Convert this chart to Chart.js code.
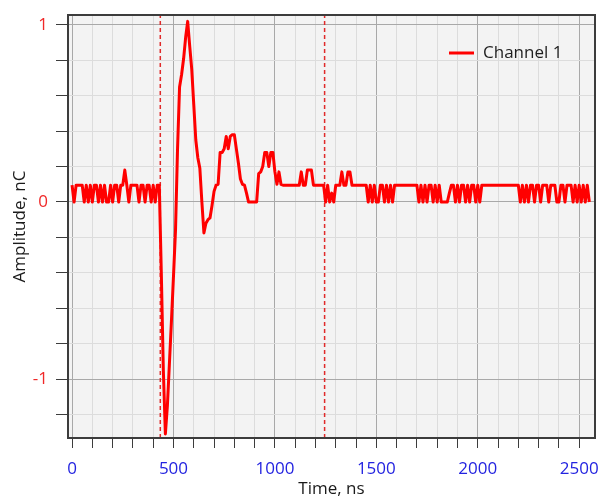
<!DOCTYPE html>
<html>
<head>
<meta charset="utf-8">
<script src="https://cdn.jsdelivr.net/npm/chart.js@4.4.1/dist/chart.umd.min.js"></script>
<style>
  html, body { margin: 0; padding: 0; background: #ffffff; }
  canvas { display: block; }
</style>
</head>
<body>
<canvas id="myChart" width="601" height="499"></canvas>
<script>
/* Channel 1 waveform, one sample every 10 ns starting at 0 ns. */
const sampleStartNs = 0;
const sampleStepNs = 10;
const channel1Nc = [
  /*    0 */ 0.095, 0, 0.095, 0.095, 0.095, 0.095, 0, 0.095, 0, 0.095,
  /*  100 */ 0, 0.095, 0.095, 0, 0.095, 0, 0.095, 0, 0, 0.095,
  /*  200 */ 0, 0.095, 0.095, 0, 0.095, 0.095, 0.18, 0.095, 0, 0.095,
  /*  300 */ 0.095, 0.095, 0.095, 0, 0.095, 0.095, 0, 0.095, 0.095, 0,
  /*  400 */ 0.095, 0, 0.095, 0.095, -0.4, -0.95, -1.31, -1.15, -0.91, -0.67,
  /*  500 */ -0.42, -0.16, 0.3, 0.65, 0.72, 0.81, 0.93, 1.02, 0.88, 0.75,
  /*  600 */ 0.55, 0.35, 0.25, 0.19, 0, -0.175, -0.12, -0.1, -0.09, -0.02,
  /*  700 */ 0.06, 0.095, 0.1, 0.28, 0.28, 0.3, 0.37, 0.3, 0.37, 0.38,
  /*  800 */ 0.38, 0.3, 0.22, 0.13, 0.1, 0.095, 0.05, 0, 0, 0,
  /*  900 */ 0, 0, 0.16, 0.17, 0.2, 0.28, 0.28, 0.2, 0.28, 0.28,
  /* 1000 */ 0.17, 0.1, 0.17, 0.1, 0.095, 0.095, 0.095, 0.095, 0.095, 0.095,
  /* 1100 */ 0.095, 0.095, 0.095, 0.17, 0.095, 0.095, 0.18, 0.18, 0.18, 0.095,
  /* 1200 */ 0.095, 0.095, 0.095, 0.095, 0.095, 0, 0.095, 0, 0.05, 0,
  /* 1300 */ 0.095, 0.095, 0.095, 0.17, 0.095, 0.095, 0.17, 0.17, 0.095, 0.095,
  /* 1400 */ 0.095, 0.095, 0.095, 0.095, 0.095, 0.095, 0, 0.095, 0, 0.095,
  /* 1500 */ 0, 0, 0.095, 0.095, 0, 0.095, 0, 0.095, 0, 0.095,
  /* 1600 */ 0.095, 0.095, 0.095, 0.095, 0.095, 0.095, 0.095, 0.095, 0.095, 0.095,
  /* 1700 */ 0.095, 0, 0.095, 0, 0.095, 0, 0.095, 0.095, 0, 0.095,
  /* 1800 */ 0, 0.095, 0, 0, 0, 0, 0.05, 0.095, 0.095, 0,
  /* 1900 */ 0.095, 0, 0.095, 0.095, 0, 0.095, 0, 0.095, 0.095, 0,
  /* 2000 */ 0.095, 0, 0.095, 0.095, 0.095, 0.095, 0.095, 0.095, 0.095, 0.095,
  /* 2100 */ 0.095, 0.095, 0.095, 0.095, 0.095, 0.095, 0.095, 0.095, 0.095, 0.095,
  /* 2200 */ 0.095, 0, 0.095, 0, 0.095, 0, 0.095, 0.095, 0, 0.095,
  /* 2300 */ 0.095, 0, 0.095, 0.095, 0.095, 0, 0.095, 0.095, 0.095, 0,
  /* 2400 */ 0, 0.095, 0.095, 0, 0.095, 0.095, 0.095, 0, 0.095, 0,
  /* 2500 */ 0.095, 0, 0.095, 0, 0.095, 0
];

/* Dashed measurement cursors. */
const cursorTimesNs = [435, 1245];

/* Axis ranges and tick values. */
const xRangeNs = [-20, 2578];
const yRangeNc = [-1.333, 1.056];
const xTickValues = [0, 100, 200, 300, 400, 500, 600, 700, 800, 900, 1000, 1100, 1200,
  1300, 1400, 1500, 1600, 1700, 1800, 1900, 2000, 2100, 2200, 2300, 2400, 2500];
const xLabelValues = [0, 500, 1000, 1500, 2000, 2500];
const yTickValues = [-1.2, -1, -0.8, -0.6, -0.4, -0.2, 0, 0.2, 0.4, 0.6, 0.8, 1];
const yLabelValues = [-1, 0, 1];

const FONT = "'Open Sans', 'Noto Sans', sans-serif";

const isMajorX = (v) => xLabelValues.indexOf(v) !== -1;
const isMajorY = (v) => yLabelValues.some((l) => Math.abs(l - v) < 1e-6);

/* Grey plot background and a frame round the plot area. */
const framePlugin = {
  id: "frame",
  beforeDraw(chart) {
    const a = chart.chartArea;
    const ctx = chart.ctx;
    ctx.save();
    ctx.fillStyle = "#f3f3f3";
    ctx.fillRect(a.left, a.top, a.right - a.left, a.bottom - a.top);
    ctx.restore();
  },
  afterDraw(chart) {
    const a = chart.chartArea;
    const ctx = chart.ctx;
    ctx.save();
    ctx.strokeStyle = "#3c3c3c";
    ctx.lineWidth = 2;
    ctx.strokeRect(a.left, a.top, a.right - a.left, a.bottom - a.top);
    ctx.restore();
  },
};

/* Legend sits inside the plot, top right. */
const legendPlugin = {
  id: "insideLegend",
  afterDatasetsDraw(chart) {
    const a = chart.chartArea;
    const ds = chart.data.datasets[0];
    const ctx = chart.ctx;
    const y = a.top + 38;
    ctx.save();
    ctx.strokeStyle = ds.borderColor;
    ctx.lineWidth = 3;
    ctx.beginPath();
    ctx.moveTo(a.right - 146, y);
    ctx.lineTo(a.right - 121, y);
    ctx.stroke();
    ctx.fillStyle = "#1e1e1e";
    ctx.font = "17px " + FONT;
    ctx.textBaseline = "middle";
    ctx.textAlign = "left";
    ctx.fillText(ds.label, a.right - 112, y);
    ctx.restore();
  },
};

const points = channel1Nc.map((v, i) => ({ x: sampleStartNs + i * sampleStepNs, y: v }));

const cursorSets = cursorTimesNs.map((t) => ({
  label: "cursor",
  data: [{ x: t, y: yRangeNc[0] }, { x: t, y: yRangeNc[1] }],
  borderColor: "#e02a2a",
  borderWidth: 1.5,
  borderDash: [4, 3],
  pointRadius: 0,
}));

const ctx = document.getElementById("myChart");

new Chart(ctx, {
  type: "line",
  data: {
    datasets: [
      {
        label: "Channel 1",
        data: points,
        borderColor: "#ff0000",
        borderWidth: 3,
        pointRadius: 0,
        tension: 0,
        borderJoinStyle: "round",
      },
      ...cursorSets,
    ],
  },
  options: {
    responsive: false,
    animation: false,
    layout: { padding: { top: 15, right: 6, left: 0, bottom: 0 } },
    plugins: {
      legend: { display: false },
      tooltip: { enabled: false },
    },
    scales: {
      x: {
        type: "linear",
        min: xRangeNs[0],
        max: xRangeNs[1],
        afterBuildTicks: (scale) => {
          scale.ticks = xTickValues.map((v) => ({ value: v }));
        },
        afterFit: (scale) => {
          scale.height = 61;
          scale.paddingLeft = 0;
          scale.paddingRight = 0;
        },
        grid: {
          color: (c) => (isMajorX(c.tick.value) ? "#a8a8a8" : "#dcdcdc"),
          tickColor: "#3c3c3c",
          tickLength: 10,
        },
        border: { color: "#3c3c3c", width: 2 },
        ticks: {
          padding: 11,
          color: "#2323e0",
          font: { family: FONT, size: 17 },
          autoSkip: false,
          maxRotation: 0,
          callback: (v) => (isMajorX(v) ? String(v) : ""),
        },
        title: {
          display: true,
          text: "Time, ns",
          color: "#1a1a1a",
          font: { family: FONT, size: 17 },
          padding: { top: 0, bottom: 0 },
        },
      },
      y: {
        min: yRangeNc[0],
        max: yRangeNc[1],
        afterBuildTicks: (scale) => {
          scale.ticks = yTickValues.map((v) => ({ value: v }));
        },
        afterFit: (scale) => {
          scale.width = 68;
          scale.paddingTop = 0;
          scale.paddingBottom = 0;
        },
        grid: {
          color: (c) => (isMajorY(c.tick.value) ? "#a8a8a8" : "#dcdcdc"),
          tickColor: "#3c3c3c",
          tickLength: 12,
        },
        border: { color: "#3c3c3c", width: 2 },
        ticks: {
          padding: 8,
          color: "#f02828",
          font: { family: FONT, size: 17 },
          autoSkip: false,
          callback: (v) => (isMajorY(v) ? String(Math.round(v)) : ""),
        },
        title: {
          display: true,
          text: "Amplitude, nC",
          color: "#1a1a1a",
          font: { family: FONT, size: 17 },
          padding: { top: 10, bottom: 0 },
        },
      },
    },
  },
  plugins: [framePlugin, legendPlugin],
});
</script>
</body>
</html>
